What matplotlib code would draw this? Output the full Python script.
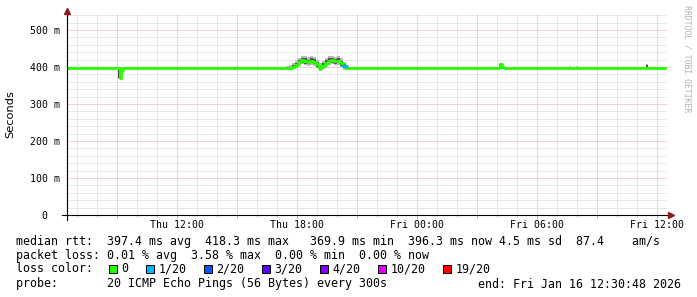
#!/usr/bin/env python3
"""SmokePing-Latenzgrafik (30 Stunden) nachgebaut"""
import numpy as np
import matplotlib
matplotlib.use('Agg')
import matplotlib.pyplot as plt
from matplotlib.patches import Rectangle

# Daten: Zeit in Stunden ab Do 00:00, Median in ms, Verlust in Pings/20
med_t = [6.52, 9.06, 9.14, 9.22, 9.30, 17.60, 17.75, 17.90, 18.05, 18.20,
         18.35, 18.50, 18.65, 18.80, 18.95, 19.10, 19.25, 19.40, 19.55, 19.70,
         19.85, 20.00, 20.15, 20.30, 20.45, 28.15, 28.25, 28.35, 36.40]
med_ms = [396.5, 396.5, 370, 392, 396.5, 398, 401, 406, 413, 418,
          416, 413, 417, 414, 407, 398, 404, 412, 417, 418,
          415, 417, 410, 403, 397, 408, 401, 396.5, 396.5]
loss = [0, 0, 0, 0, 0, 0, 0, 0, 0, 0,
        0, 0, 0, 0, 0, 0, 0, 0, 0, 0,
        0, 0, 0, 1, 0, 0, 0, 0, 0]

# Rauch (Streuung der Einzelpings)
smoke_t = [6.52, 9.04, 9.14, 9.22, 9.30, 15.00, 15.08, 17.45, 17.60, 17.75,
           17.90, 18.05, 18.20, 18.35, 18.50, 18.65, 18.80, 18.95, 19.10, 19.25,
           19.40, 19.55, 19.70, 19.85, 20.00, 20.15, 20.30, 20.45, 20.60, 28.10,
           28.30, 31.60, 31.70, 31.95, 32.05, 35.45, 35.55, 36.40]
smoke_lo = [395, 368, 366, 384, 395, 395, 395, 395, 393, 394,
            398, 403, 407, 405, 403, 406, 403, 396, 390, 395,
            401, 406, 407, 405, 406, 399, 392, 393, 395, 395,
            395, 395, 395, 395, 395, 395, 395, 395]
smoke_hi = [399, 400, 399, 400, 399, 405, 399, 402, 405, 410,
            416, 424, 430, 429, 426, 430, 428, 420, 410, 416,
            424, 430, 431, 428, 430, 424, 414, 405, 399, 411,
            399, 404, 399, 403, 399, 407, 399, 399]
core_lo = [396, 370, 369, 388, 396, 396, 396, 396, 395, 397,
           401, 407, 411, 409, 407, 410, 408, 400, 393, 398,
           405, 410, 411, 409, 410, 403, 396, 395, 396, 396,
           396, 396, 396, 396, 396, 396, 396, 396]
core_hi = [398, 398, 382, 398, 398, 398, 398, 399, 401, 405,
           411, 419, 425, 423, 420, 424, 421, 414, 404, 410,
           418, 424, 425, 422, 424, 417, 409, 401, 398, 408,
           398, 398, 398, 398, 398, 406, 398, 398]

x_major = [9, 12, 15, 18, 21, 24, 27, 30, 33, 36]
x_labels = ['', 'Thu 12:00', '', 'Thu 18:00', '', 'Fri 00:00', '', 'Fri 06:00', '', 'Fri 12:00']
x_minor = list(range(7, 37))
y_major = [0, 100, 200, 300, 400, 500]
y_labels = ['0  ', '100 m', '200 m', '300 m', '400 m', '500 m']
y_minor = list(range(0, 541, 20))

loss_names = ['0', '1/20', '2/20', '3/20', '4/20', '10/20', '19/20']
loss_colors = ['#26ff00', '#00b8ff', '#0059ff', '#5e00ff', '#7e00ff', '#dd00ff', '#ff0000']

W, H = 697, 297
MONO = 'DejaVu Sans Mono'


def px(x, y):
    return x / W, 1 - y / H


fig = plt.figure(figsize=(W / 100, H / 100), dpi=100)
ax = fig.add_axes([67 / W, 82 / H, 600 / W, 202 / H])
ax.set_xlim(6.513, 36.513)
ax.set_ylim(0, 202 / 0.37)

# Gitter
ax.set_xticks(x_major)
ax.set_xticklabels(x_labels, fontfamily=MONO, fontsize=7.1)
ax.set_xticks(x_minor, minor=True)
ax.set_yticks(y_major)
ax.set_yticklabels(y_labels, fontfamily=MONO, fontsize=7.1)
ax.set_yticks(y_minor, minor=True)
ax.grid(True, which='minor', color='#d2d2d2', linestyle=(0, (1, 1)), linewidth=0.72)
ax.grid(True, which='major', color='#e6a4a4', linestyle=(0, (1, 1)), linewidth=0.72)
ax.set_axisbelow(True)
ax.tick_params(axis='x', which='major', length=2.2, width=0.72, color='#e6a4a4', pad=1.5)
ax.tick_params(axis='x', which='minor', length=1.5, width=0.72, color='#d2d2d2')
ax.tick_params(axis='y', which='both', length=0, pad=5)
for s in ax.spines.values():
    s.set_visible(False)

# Rauch
ax.fill_between(smoke_t, smoke_lo, smoke_hi, step='post', color='#b8b8b8', lw=0, zorder=2.5)
ax.fill_between(smoke_t, core_lo, core_hi, step='post', color='#555555', lw=0, zorder=2.6)

# Median nach Verlustfarbe
med = np.array(med_ms, dtype=float)
lv = np.array(loss)
for k, col in [(0, loss_colors[0]), (1, loss_colors[1])]:
    vals = np.where(lv == k, med, np.nan)
    ax.step(med_t, vals, where='post', color=col, lw=2.0, zorder=3)

# Achsen mit Pfeilen
ax.plot([-5 / 600, 1 + 1 / 600], [0, 0], transform=ax.transAxes, color='black',
        lw=0.8, clip_on=False, zorder=4)
ax.plot([0, 0], [-5 / 202, 1], transform=ax.transAxes, color='black',
        lw=0.8, clip_on=False, zorder=4)
ax.plot([1 + 3.5 / 600], [0], transform=ax.transAxes, marker='>', ms=4.2,
        color='#8b1a1a', clip_on=False, zorder=5)
ax.plot([0], [1 + 2.5 / 202], transform=ax.transAxes, marker='^', ms=4.2,
        color='#8b1a1a', clip_on=False, zorder=5)

# Beschriftungen
fig.text(*px(10, 114), 'Seconds', rotation=90, ha='center', va='center',
         fontfamily='DejaVu Sans', fontsize=8.2)
fig.text(*px(687, 5), 'RRDTOOL / TOBI OETIKER', rotation=270, ha='center', va='top',
         fontfamily=MONO, fontsize=5.9, color='#b4b4b4')

row1 = ('median rtt:  397.4 ms avg  418.3 ms max   369.9 ms min  396.3 ms now'
        ' 4.5 ms sd  87.4    am/s')
row2 = 'packet loss: 0.01 % avg  3.58 % max  0.00 % min  0.00 % now'
row4 = 'probe:       20 ICMP Echo Pings (56 Bytes) every 300s'
fs = 8.35
fig.text(*px(16, 241), row1, fontfamily=MONO, fontsize=fs, va='center')
fig.text(*px(16, 255), row2, fontfamily=MONO, fontsize=fs, va='center')
fig.text(*px(16, 269), 'loss color:', fontfamily=MONO, fontsize=fs, va='center')
fig.text(*px(16, 284), row4, fontfamily=MONO, fontsize=fs, va='center')
fig.text(*px(478, 284), 'end: Fri Jan 16 12:30:48 2026', fontfamily=MONO,
         fontsize=fs, va='center')

x = 109
for name, col in zip(loss_names, loss_colors):
    bx, by = px(x, 273)
    fig.patches.append(Rectangle((bx, by), 8 / W, 8 / H, transform=fig.transFigure,
                                 facecolor=col, edgecolor='black', lw=0.72))
    fig.text(*px(x + 12.5, 269), name, fontfamily=MONO, fontsize=fs, va='center')
    x += 30 + 7 * len(name)

fig.savefig('out.png', dpi=100)
